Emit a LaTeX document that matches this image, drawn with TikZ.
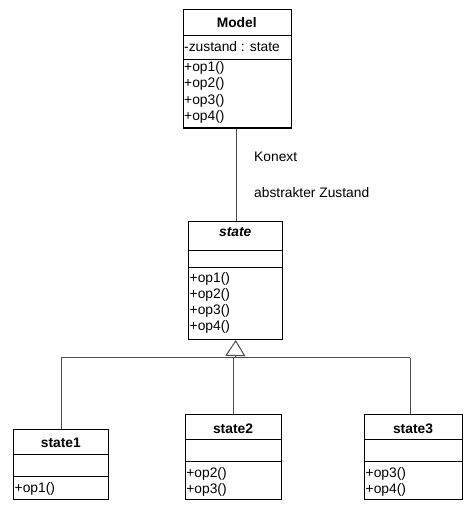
\documentclass[tikz,border=0pt]{standalone}
\usepackage{fontspec}
\setmainfont{Liberation Sans}
\usetikzlibrary{arrows.meta}
\tikzset{
  classbox/.style={draw=black, line width=1bp, rectangle, inner sep=0pt, anchor=north west},
  divider/.style={draw=black, line width=1bp},
  conn/.style={draw=black!70, line width=1bp},
  title/.style={font=\fontsize{13.8bp}{16bp}\selectfont\bfseries, inner sep=0pt, anchor=center},
  member/.style={font=\fontsize{13.8bp}{16bp}\selectfont, inner sep=0pt, anchor=west},
  label/.style={font=\fontsize{13.8bp}{16bp}\selectfont, inner sep=0pt, anchor=west},
}
\begin{document}
\begin{tikzpicture}[x=1bp,y=-1bp]
\useasboundingbox (0,0) rectangle (473,509);
% Model
\node[classbox, minimum width=108.5bp, minimum height=118bp] (model) at (182.5,9.5) {};
\draw[divider] (182.5,35.5) -- (291,35.5);
\draw[divider] (182.5,60) -- (291,60);
\node[title] (modelT) at (236.75,22.5) {Model};
\node[member] (modelA) at (184,47) {-zustand : state};
\node[member] (mop1) at (184,68) {+op1()};
\node[member] (mop2) at (184,84) {+op2()};
\node[member] (mop3) at (184,100.5) {+op3()};
\node[member] (mop4) at (184,116.5) {+op4()};
% state
\node[classbox, minimum width=94bp, minimum height=118.5bp] (state) at (188.3,220.5) {};
\draw[divider] (188.3,250) -- (282.3,250);
\draw[divider] (188.3,267.3) -- (282.3,267.3);
\node[title, font=\fontsize{13.8bp}{16bp}\selectfont\bfseries\itshape] (stateT) at (235.3,232.5) {state};
\node[member] (sop1) at (189.5,278.5) {+op1()};
\node[member] (sop2) at (189.5,294.5) {+op2()};
\node[member] (sop3) at (189.5,311) {+op3()};
\node[member] (sop4) at (189.5,327.3) {+op4()};
% state1
\node[classbox, minimum width=95bp, minimum height=70bp] (s1) at (13.3,429) {};
\draw[divider] (13.3,454.3) -- (108.3,454.3);
\draw[divider] (13.3,476.7) -- (108.3,476.7);
\node[title] (s1T) at (60.8,443.3) {state1};
\node[member] (s1op1) at (14.5,489.3) {+op1()};
% state2
\node[classbox, minimum width=96bp, minimum height=85bp] (s2) at (185,414) {};
\draw[divider] (185,439.7) -- (281,439.7);
\draw[divider] (185,461.7) -- (281,461.7);
\node[title] (s2T) at (233,428.3) {state2};
\node[member] (s2op2) at (186.2,474.3) {+op2()};
\node[member] (s2op3) at (186.2,490.3) {+op3()};
% state3
\node[classbox, minimum width=97.4bp, minimum height=85bp] (s3) at (364.3,414) {};
\draw[divider] (364.3,439.7) -- (461.7,439.7);
\draw[divider] (364.3,461.7) -- (461.7,461.7);
\node[title] (s3T) at (413,428.3) {state3};
\node[member] (s3op3) at (365.5,474.3) {+op3()};
\node[member] (s3op4) at (365.5,490.3) {+op4()};
% labels
\node[label] (konext) at (254,157) {Konext};
\node[label] (abstr) at (254,193) {abstrakter Zustand};
% connectors
\coordinate (hub) at (235.3,357.5);
\coordinate (left) at (61,357.5);
\coordinate (right) at (410,357.5);
\draw[conn] (model.south -| 236,0) -- (state.north -| 236,0);
\draw[conn, -{Triangle[open, length=16bp, width=20bp, line width=1bp]}, draw=black!70] (hub) -- (state.south);
\draw[conn] (left) -- (right);
\draw[conn] (left) -- (left |- s1.north);
\draw[conn] (233.5,357.5) -- (s2.north -| 233.5,0);
\draw[conn] (right) -- (right |- s3.north);
\end{tikzpicture}
\end{document}
